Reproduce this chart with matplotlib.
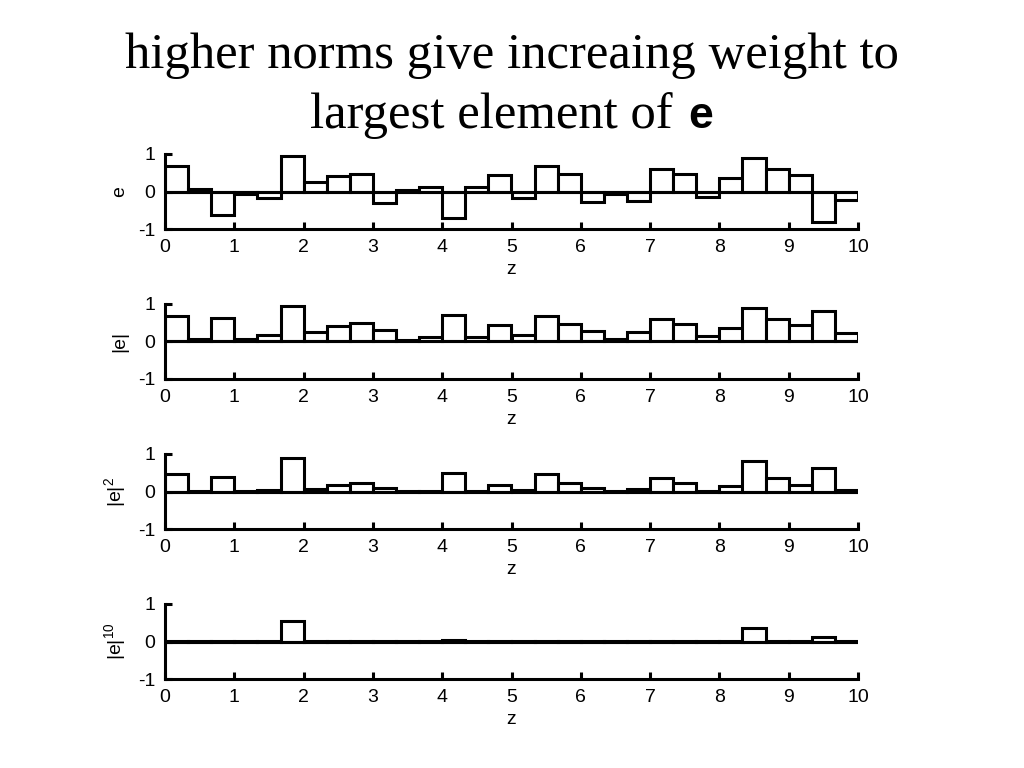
import matplotlib
matplotlib.use("Agg")
import matplotlib.pyplot as plt
import numpy as np

# values of e, 30 bins of width 1/3 over z = 0..10
e = [0.68, 0.07, -0.62, -0.06, -0.17, 0.94, 0.25, 0.41, 0.48, -0.31,
     0.05, 0.13, -0.71, 0.12, 0.43, -0.17, 0.68, 0.47, -0.29, -0.06,
     -0.25, 0.59, 0.47, -0.14, 0.37, 0.90, 0.59, 0.43, -0.80, -0.22]
bin_width = 1 / 3
z_edges = np.arange(30) * bin_width

e = np.array(e)
panels = [
    (e, "e"),
    (np.abs(e), "|e|"),
    (np.abs(e) ** 2, "|e|$^{2}$"),
    (np.abs(e) ** 10, "|e|$^{10}$"),
]

plt.rcParams['font.family'] = ['Liberation Sans', 'DejaVu Sans']
plt.rcParams['mathtext.fontset'] = 'custom'
plt.rcParams['mathtext.rm'] = 'Liberation Sans'
plt.rcParams['mathtext.it'] = 'Liberation Sans'
plt.rcParams['mathtext.bf'] = 'Liberation Sans:bold'

fig = plt.figure(figsize=(10.24, 7.68), dpi=100)

# title, serif with a bold sans "e"
fig.text(0.5, 1 - 56 / 768, "higher norms give increaing weight to",
         ha='center', va='center', fontsize=36.5, family='Liberation Serif')
fig.text(310 / 1024, 1 - 116 / 768, "largest element of",
         ha='left', va='center', fontsize=36.5, family='Liberation Serif')
fig.text(688 / 1024, 1 - 116 / 768, "e", ha='left', va='center',
         fontsize=32, fontweight='bold')

bottoms = [229, 379, 529, 679]
lw = 2.2
for (vals, label), bot in zip(panels, bottoms):
    ax = fig.add_axes([165 / 1024, 1 - bot / 768, 693 / 1024, 75 / 768])
    ax.bar(z_edges, vals, width=bin_width, align='edge',
           facecolor='white', edgecolor='black', linewidth=lw, zorder=2)
    ax.plot([0, 10], [0, 0], color='black', linewidth=lw, zorder=3)
    ax.set_xlim(0, 10)
    ax.set_ylim(-1, 1)
    ax.set_xticks(range(11))
    ax.set_yticks([-1, 0, 1])
    ax.set_yticklabels(["-1", "0", "1"])
    for side in ['top', 'right']:
        ax.spines[side].set_visible(False)
    for side in ['left', 'bottom']:
        ax.spines[side].set_linewidth(lw)
    ax.tick_params(direction='in', length=5, width=lw, labelsize=14, pad=7)
    ax.set_xlabel("z", fontsize=14, labelpad=4)
    ax.set_ylabel(label, fontsize=14, labelpad=7)

fig.savefig("out.png", dpi=100)
